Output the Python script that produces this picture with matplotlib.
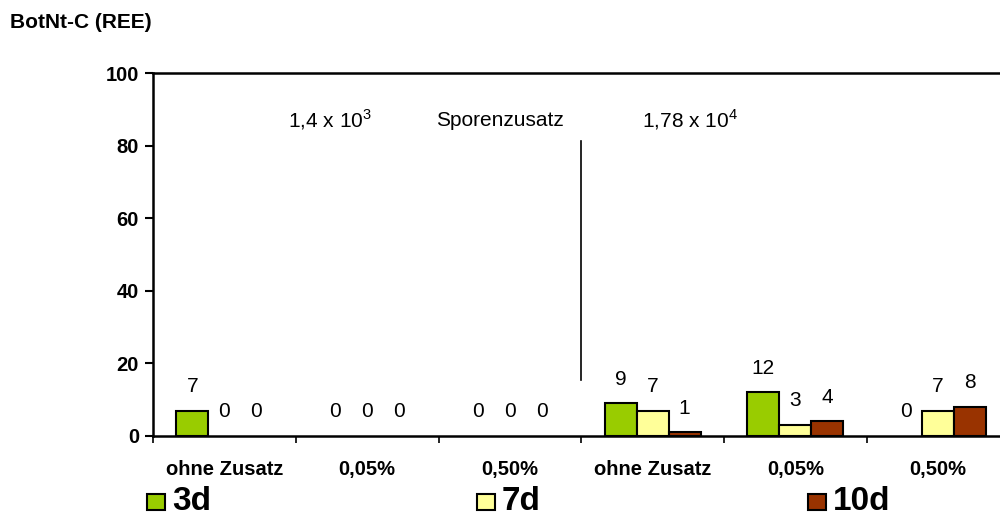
import matplotlib
matplotlib.use("Agg")
import matplotlib.pyplot as plt
from matplotlib.patches import Rectangle
import numpy as np

plt.rcParams['font.family'] = ['Liberation Sans', 'DejaVu Sans']
plt.rcParams['mathtext.fontset'] = 'custom'
plt.rcParams['mathtext.rm'] = 'Liberation Sans'

categories = ["ohne Zusatz", "0,05%", "0,50%", "ohne Zusatz", "0,05%", "0,50%"]
series_names = ["3d", "7d", "10d"]
values_3d = [7, 0, 0, 9, 12, 0]
values_7d = [0, 0, 0, 7, 3, 7]
values_10d = [0, 0, 0, 1, 4, 8]
colors = ["#99CC00", "#FFFF99", "#993300"]
yticks = [0, 20, 40, 60, 80, 100]
title = "BotNt-C (REE)"

fig = plt.figure(figsize=(10, 5.17), dpi=100)
ax = fig.add_axes([0.153, 0.1567, 0.8565, 0.7021])

x = np.arange(len(categories))
w = 0.224
series = [values_3d, values_7d, values_10d]
for i, (vals, c) in enumerate(zip(series, colors)):
    pos = x + (i - 1) * w
    lws = [1.5 if v > 0 else 0 for v in vals]
    ax.bar(pos, vals, width=w, color=c, edgecolor='black', linewidth=lws, zorder=3)
    for px, v in zip(pos, vals):
        ax.annotate(str(v), (px, v), xytext=(0, 17.5), textcoords='offset points',
                    ha='center', va='center', fontsize=15)

ax.set_xlim(-0.5, len(categories) - 0.5)
ax.set_ylim(0, 100)
ax.set_yticks(yticks)
ax.set_yticklabels([str(t) for t in yticks], fontsize=14.5, fontweight='bold')
ax.set_xticks(x)
ax.set_xticklabels(categories, fontsize=14.5, fontweight='bold')
ax.tick_params(axis='x', length=0, pad=17)
ax.set_xticks(np.arange(-0.5, len(categories), 1.0), minor=True)
ax.tick_params(axis='x', which='minor', length=5, width=1.2, direction='out')
ax.tick_params(axis='y', length=6, width=1.5, direction='out', pad=4)

for s in ['left', 'bottom', 'top']:
    ax.spines[s].set_linewidth(1.8)
ax.spines['right'].set_visible(False)

ax.plot([2.5, 2.5], [15.4, 81.3], color='black', linewidth=1.2)
ax.text(0.74, 87, r'1,4 x 10$^3$', ha='center', va='center', fontsize=15)
ax.text(1.93, 87, 'Sporenzusatz', ha='center', va='center', fontsize=15)
ax.text(3.26, 87, r'1,78 x 10$^4$', ha='center', va='center', fontsize=15)

fig.text(0.010, 1 - 22 / 517, title, fontsize=15, fontweight='bold', ha='left', va='center')

# legend
leg_x = [147, 477, 808]
for lx, name, c in zip(leg_x, series_names, colors):
    fig.patches.append(Rectangle((lx / 1000, 1 - 510 / 517), 18 / 1000, 16 / 517,
                                 transform=fig.transFigure, facecolor=c,
                                 edgecolor='black', linewidth=1.5))
    fig.text((lx + 25) / 1000, 1 - 502 / 517, name, fontsize=24, fontweight='bold',
             ha='left', va='center')

fig.savefig("out.png", dpi=100)
